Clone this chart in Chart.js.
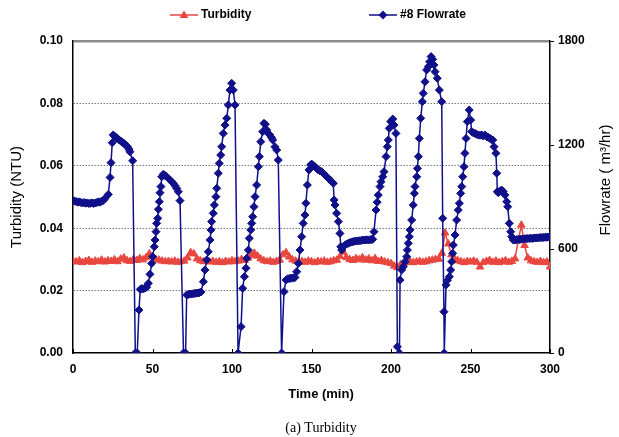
<!DOCTYPE html>
<html>
<head>
<meta charset="utf-8">
<script src="https://cdn.jsdelivr.net/npm/chart.js@4.4.1/dist/chart.umd.min.js"></script>
<style>
  html, body { margin: 0; padding: 0; background: #fff; }
</style>
</head>
<body>
<canvas id="turbChart" width="619" height="437"></canvas>
<script>
// flowrate (#8), m3/hr
const flowTime = [0,1,2,3,4,5,6,7,8,9,10,11,12,13,14,15,16,17,18,19,20,
  22.2,23.3,23.9,24.7,25.3,26.2,27.2,28.2,29.2,30.2,31.2,32.2,33.2,34.2,35.2,35.8,37.5,
  39.2,40.4,41.5,42.3,43.2,44.2,45.2,46.3,47.4,48.4,49.5,50.1,51.1,51.6,52.2,52.6,53.3,53.7,54.3,54.7,55.3,55.8,56.8,57.8,58.9,60,61,62,63.1,64.2,65.2,66.2,67.3,
  69.5,70.8,71.5,72.5,73.5,74.5,75.5,76.5,77.5,78.5,79.5,80.5,82,83,84.1,85.1,86.2,86.8,87.2,88.2,88.9,89.9,90.4,91.4,92,92.9,93.5,94.5,95.6,96.7,97.7,98.7,99.8,100.8,101.9,
  103.8,105.7,106.7,107.8,108.8,109.2,110.3,110.9,111.8,112.4,113,113.8,114.5,115.5,116.6,117.2,118.1,119.3,120.1,121,121.8,122.8,123.9,124.8,125.6,127,128.1,129.1,
  131.2,132.7,134,135,136,137,138,139,139.6,140.7,141.7,142.8,143.8,144.8,145.9,146.5,147.4,148.4,149.5,150.1,151.2,152.2,153.3,154.3,155.4,156.4,157.5,158.5,159.6,160.6,161.7,162.7,163.7,
  164.2,164.8,165.8,166.9,167.9,168.4,169,170,171,172.1,173.2,174.2,175.3,176.3,177.4,178.4,179.5,180.5,181.6,182.6,183.7,184.7,185.8,186.8,187.8,188.5,189.3,190.6,191.3,192,193.1,193.7,194.8,195.6,196.9,197.7,198.3,198.9,199.8,201.1,201.9,203.1,
  204,205.3,205.7,206.7,207.7,208.8,209.9,210.3,210.9,211.5,212,213,214,214.7,215.1,216.2,216.6,217.2,217.8,218.7,219.7,220.3,221.4,222.4,223.5,224.3,225.2,226.2,227,227.7,229.1,230.4,231.9,232.5,233.3,233.5,
  234.6,235.5,236.7,237.5,238.2,238.8,239.2,240.3,241.3,242.3,243,243.8,244.5,245.1,245.9,246.5,247.2,248,249.2,250.1,250.7,251.8,252.8,253.8,254.9,256,257,258,259.1,260.2,261.2,262.3,263.2,264,264.8,266,266.5,266.9,267.5,268.1,268.9,269.6,270.6,271.7,272.8,273.4,274.4,275.3,275.9,276.9,278,
  279,280,281,282,283,284,285,286,287,288,289,290,291,292,293,294,295,296,297,298,299,300];

const flowRate = [880,876,874,870,872,868,866,868,864,866,862,864,866,862,866,868,872,870,876,880,890,
  915,1013,1098,1213,1258,1250,1242,1236,1228,1222,1214,1208,1200,1190,1176,1161,1109,
  0,0,248,367,372,370,374,380,402,454,517,556,613,652,700,748,777,829,873,925,960,1017,1031,1025,1017,1008,998,990,979,965,950,931,879,
  0,0,335,338,340,340,342,344,345,346,348,352,411,479,537,584,652,710,758,806,854,902,950,1037,1094,1142,1190,1267,1315,1354,1431,1517,1556,1517,1431,
  0,152,373,440,489,546,594,662,710,748,786,844,902,969,1075,1133,1219,1277,1325,1320,1287,1267,1258,1244,1229,1190,1171,1113,
  0,354,421,428,430,431,432,434,436,469,517,594,671,748,796,864,969,1056,1085,1090,1080,1075,1065,1056,1050,1046,1036,1027,1017,1008,998,988,979,
  883,854,806,758,690,613,594,613,622,629,633,637,640,643,645,646,647,648,650,652,652,653,652,654,655,656,700,825,870,911,960,988,1017,1046,1133,1190,1229,1296,1335,1350,1315,1267,
  36,0,421,479,498,527,556,594,633,671,710,767,854,921,960,1017,1065,1133,1238,1354,1450,1498,1565,1633,1652,1680,1710,1694,1662,1623,1585,1517,1450,777,238,0,
  392,420,440,479,527,575,623,681,767,825,864,921,960,1017,1075,1152,1238,1335,1402,1344,1277,1270,1267,1262,1258,1256,1258,1252,1258,1248,1244,1238,1232,1229,1190,1152,1037,931,925,931,936,940,931,911,873,844,748,700,671,652,652,
  654,656,655,658,657,659,660,660,661,662,661,663,664,664,665,666,666,667,668,668,669,670];

// turbidity (NTU), one reading every 2 min from 0 to 300
const turbStep = 2;
const turbidity = [
  0.0295,0.0292,0.0296,0.0290,0.0294,0.0297,0.0291,0.0295,0.0293,0.0298,
  0.0292,0.0296,0.0294,0.0299,0.0293,0.0301,0.0305,0.0296,0.0294,0.0300,
  0.0297,0.0303,0.0299,0.0306,0.0318,0.0310,0.0300,0.0298,0.0295,0.0293,
  0.0294,0.0292,0.0295,0.0291,0.0293,0.0295,0.0305,0.0322,0.0318,0.0302,
  0.0296,0.0293,0.0295,0.0292,0.0294,0.0291,0.0293,0.0290,0.0294,0.0292,
  0.0296,0.0293,0.0295,0.0300,0.0297,0.0304,0.0312,0.0320,0.0311,0.0302,
  0.0296,0.0293,0.0295,0.0291,0.0294,0.0298,0.0315,0.0322,0.0308,0.0299,
  0.0295,0.0292,0.0294,0.0291,0.0295,0.0293,0.0290,0.0294,0.0292,0.0295,
  0.0291,0.0293,0.0296,0.0298,0.0310,0.0324,0.0306,0.0300,0.0297,0.0303,
  0.0299,0.0306,0.0298,0.0302,0.0296,0.0303,0.0294,0.0297,0.0292,0.0290,
  0.0287,0.0279,0.0274,0.0283,0.0288,0.0291,0.0293,0.0290,0.0292,0.0294,
  0.0291,0.0293,0.0296,0.0298,0.0300,0.0301,0.0320,0.0385,0.0350,0.0315,
  0.0302,0.0296,0.0293,0.0290,0.0294,0.0292,0.0295,0.0291,0.0276,0.0290,
  0.0294,0.0297,0.0291,0.0295,0.0290,0.0293,0.0296,0.0291,0.0294,0.0302,
  0.0360,0.0410,0.0345,0.0305,0.0296,0.0293,0.0291,0.0294,0.0290,0.0292,
  0.0276];

const timeTicks = [0, 50, 100, 150, 200, 250, 300];
const turbTicks = [0, 0.02, 0.04, 0.06, 0.08, 0.10];
const flowTicks = [0, 600, 1200, 1800];

const RED = "#e8473f";
const NAVY = "#10108a";
const FONT = '"Liberation Sans", Arial, sans-serif';

// legend, axis titles, caption and the inward x ticks
const decor = {
  id: "decor",
  afterDraw(chart) {
    const { ctx, chartArea, scales } = chart;
    ctx.save();

    ctx.strokeStyle = "#000";
    ctx.lineWidth = 1;
    scales.x.ticks.forEach((t) => {
      const px = Math.round(scales.x.getPixelForValue(t.value)) + 0.5;
      ctx.beginPath();
      ctx.moveTo(px, chartArea.bottom);
      ctx.lineTo(px, chartArea.bottom - 4);
      ctx.stroke();
    });

    // legend
    const ly = 15;
    ctx.lineWidth = 1.5;
    ctx.strokeStyle = RED;
    ctx.beginPath(); ctx.moveTo(170, ly); ctx.lineTo(198, ly); ctx.stroke();
    ctx.fillStyle = RED;
    ctx.beginPath(); ctx.moveTo(184, ly - 4.5); ctx.lineTo(188.5, ly + 3); ctx.lineTo(179.5, ly + 3); ctx.closePath(); ctx.fill();
    ctx.strokeStyle = NAVY;
    ctx.beginPath(); ctx.moveTo(369, ly); ctx.lineTo(397, ly); ctx.stroke();
    ctx.fillStyle = NAVY;
    ctx.beginPath(); ctx.moveTo(383, ly - 4.5); ctx.lineTo(387.5, ly); ctx.lineTo(383, ly + 4.5); ctx.lineTo(378.5, ly); ctx.closePath(); ctx.fill();

    ctx.fillStyle = "#000";
    ctx.textBaseline = "middle";
    ctx.textAlign = "left";
    ctx.font = "bold 12px " + FONT;
    ctx.fillText("Turbidity", 201, ly);
    ctx.fillText("#8 Flowrate", 400, ly);

    // x title and caption
    ctx.textAlign = "center";
    ctx.font = "bold 13px " + FONT;
    ctx.fillText("Time (min)", 321, 394);
    ctx.font = '14px "Liberation Serif", "Times New Roman", serif';
    ctx.fillText("(a) Turbidity", 321, 428);

    // right axis title, reads bottom to top
    ctx.translate(606, 180);
    ctx.rotate(-Math.PI / 2);
    ctx.font = "15px " + FONT;
    ctx.fillText("Flowrate ( m\u00B3/hr)", 0, 0);
    ctx.restore();
  }
};

const isTop = (c) => c.tick && Math.abs(c.tick.value - 0.1) < 1e-6;
const isZero = (c) => c.tick && Math.abs(c.tick.value) < 1e-6;

new Chart(document.getElementById("turbChart"), {
  type: "line",
  data: {
    datasets: [
      {
        label: "#8 Flowrate",
        yAxisID: "y1",
        data: flowTime.map((t, i) => ({ x: t, y: flowRate[i] })),
        borderColor: NAVY,
        backgroundColor: NAVY,
        borderWidth: 1.5,
        pointStyle: "rectRot",
        pointRadius: 4,
        pointBorderWidth: 1,
        tension: 0
      },
      {
        label: "Turbidity",
        yAxisID: "y",
        data: turbidity.map((v, i) => ({ x: i * turbStep, y: v })),
        borderColor: RED,
        backgroundColor: RED,
        borderWidth: 1.5,
        pointStyle: "triangle",
        pointRadius: 4.3,
        pointBorderWidth: 1,
        tension: 0
      }
    ]
  },
  options: {
    responsive: false,
    animation: false,
    events: [],
    layout: { padding: { top: 41, left: 0, right: 0, bottom: 0 } },
    plugins: {
      legend: { display: false },
      tooltip: { enabled: false }
    },
    scales: {
      x: {
        type: "linear",
        min: 0,
        max: 300,
        afterBuildTicks: (s) => { s.ticks = timeTicks.map((v) => ({ value: v })); },
        afterFit: (s) => { s.height = 84; },
        ticks: { color: "#000", padding: 9, font: { family: FONT, size: 12, weight: "bold" } },
        grid: { drawOnChartArea: false, drawTicks: false },
        border: { color: "#000", width: 1.5 }
      },
      y: {
        position: "left",
        min: 0,
        max: 0.1,
        afterBuildTicks: (s) => { s.ticks = turbTicks.map((v) => ({ value: v })); },
        afterFit: (s) => { s.width = 73; },
        ticks: {
          color: "#000",
          padding: 10,
          font: { family: FONT, size: 12, weight: "bold" },
          callback: (v) => Number(v).toFixed(2)
        },
        title: {
          display: true,
          text: "Turbidity (NTU)",
          color: "#000",
          padding: { top: 8 },
          font: { family: FONT, size: 15 }
        },
        grid: {
          drawTicks: false,
          color: (c) => (isZero(c) ? "rgba(0,0,0,0)" : isTop(c) ? "#8c8c8c" : "#7a7a7a"),
          lineWidth: (c) => (isTop(c) ? 2.5 : 1)
        },
        border: { color: "#000", width: 1.5, dash: (c) => (isTop(c) ? [] : [1.5, 1.5]) }
      },
      y1: {
        position: "right",
        min: 0,
        max: 1800,
        afterBuildTicks: (s) => { s.ticks = flowTicks.map((v) => ({ value: v })); },
        afterFit: (s) => { s.width = 69; },
        ticks: {
          color: "#000",
          padding: 4,
          font: { family: FONT, size: 12, weight: "bold" },
          callback: (v) => String(v)
        },
        grid: { drawOnChartArea: false, drawTicks: true, tickLength: 4, tickColor: "#000" },
        border: { color: "#000", width: 1.5 }
      }
    }
  },
  plugins: [decor]
});
</script>
</body>
</html>
